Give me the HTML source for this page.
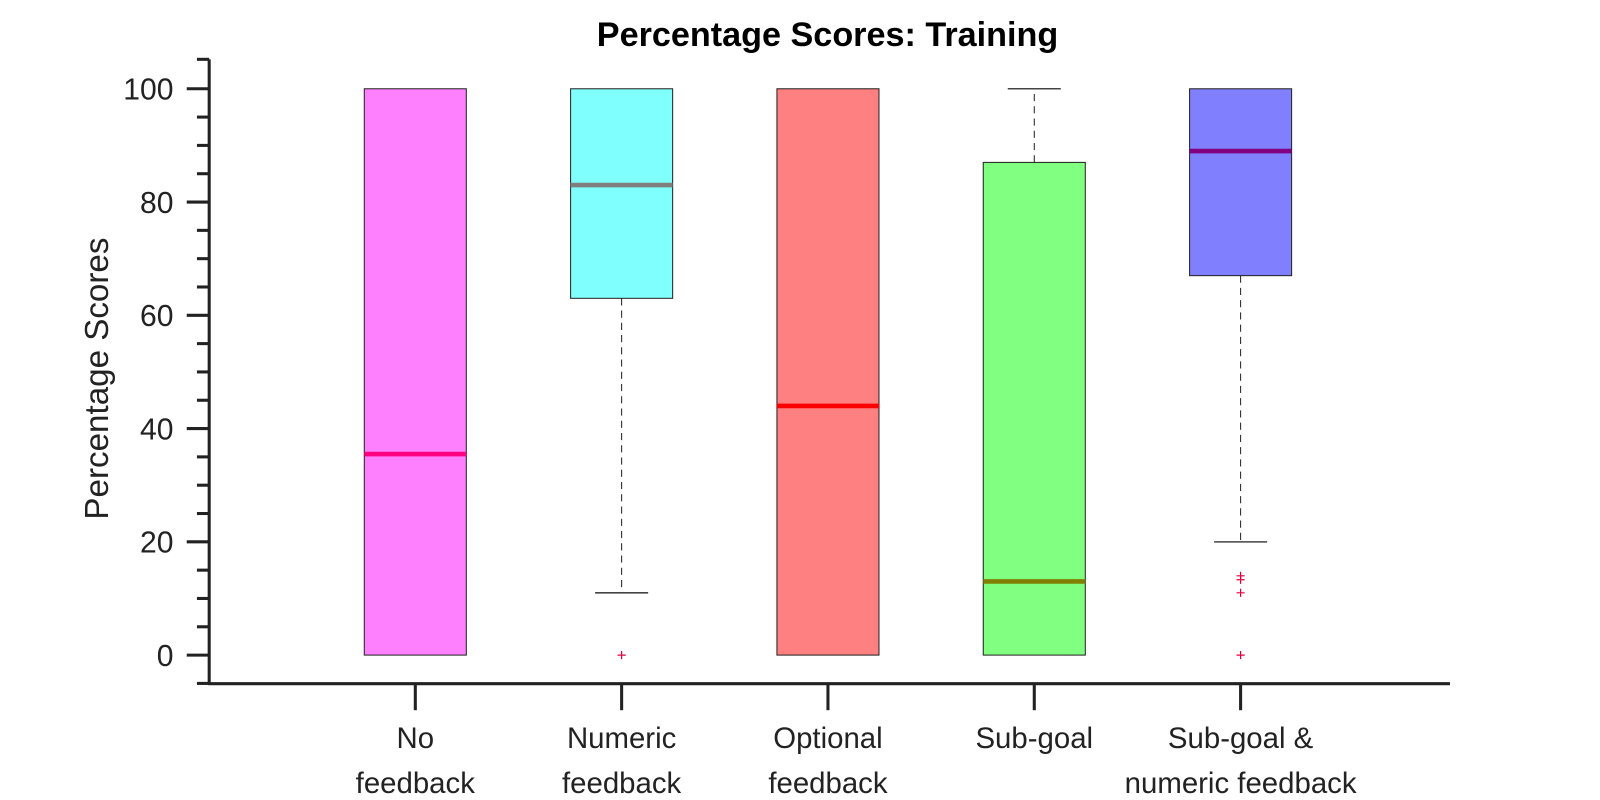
<!DOCTYPE html>
<html><head><meta charset="utf-8"><style>
body{margin:0;background:#fff;}
svg{display:block;font-family:"Liberation Sans",Arial,sans-serif;}
</style></head><body>
<svg id="chart" width="1600" height="800">
<g transform="scale(1.0204)">
<text x="811" y="45" text-anchor="middle" font-size="33.5" font-weight="bold" fill="#000">Percentage Scores: Training</text>
<text transform="translate(106,371) rotate(-90)" text-anchor="middle" font-size="32.5" fill="#222">Percentage Scores</text>
<g id="axes"></g>
<g id="boxes"></g>
</g>
</svg>
<script>
const categories=[["No","feedback"],["Numeric","feedback"],["Optional","feedback"],["Sub-goal",""],["Sub-goal &","numeric feedback"]];
const whiskerLow=[0,11,0,0,20];
const q1=[0,63,0,0,67];
const medians=[35.5,83,44,13,89];
const q3=[100,100,100,87,100];
const whiskerHigh=[100,100,100,100,100];
const outliers=[[],[0],[],[],[14,13.3,11,0]];
const yTicks=[0,20,40,60,80,100];
const fills=["#ff80ff","#80ffff","#ff8080","#80ff80","#8080ff"];
const medColors=["#ff0080","#808080","#ff0000","#808000","#800080"];

const ns="http://www.w3.org/2000/svg";
const y=v=>642-v*5.55;
const x=i=>407+i*202.2;
function mk(tag,attrs,parent){const e=document.createElementNS(ns,tag);for(const k in attrs)e.setAttribute(k,attrs[k]);parent.appendChild(e);return e;}
const axes=document.getElementById('axes'),boxes=document.getElementById('boxes');

let e=mk('line',{x1:205,y1:y(105.2),x2:205,y2:671,stroke:'#222','stroke-width':3},axes);


e=mk('line',{x1:204,y1:670,x2:1421,y2:670,stroke:'#222','stroke-width':3},axes);


mk('line',{x1:193,y1:y(105.2),x2:205,y2:y(105.2),stroke:'#222','stroke-width':3},axes);
for(let v=-5;v<=100;v+=5){
  const major=yTicks.includes(v);
  e=mk('line',{x1:major?183:193,y1:y(v),x2:205,y2:y(v),stroke:'#222','stroke-width':3},axes);
  
  
}
yTicks.forEach(v=>{
  const t=mk('text',{x:170,y:y(v)+10.5,'text-anchor':'end','font-size':29.5,fill:'#222'},axes);
  t.textContent=v;
  
  
});
categories.forEach((c,i)=>{
  e=mk('line',{x1:x(i),y1:670,x2:x(i),y2:696,stroke:'#222','stroke-width':3},axes);
  
  
  c.forEach((line,j)=>{
    if(!line)return;
    const t=mk('text',{x:x(i),y:733+j*44,'text-anchor':'middle','font-size':28.8,fill:'#222'},axes);
    t.textContent=line;
    
    
  });
});
categories.forEach((c,i)=>{
  const g=mk('g',{},boxes);
  
  
  const cx=x(i),hw=50,cw=26;
  if(whiskerHigh[i]>q3[i]){
    mk('line',{x1:cx,y1:y(q3[i]),x2:cx,y2:y(whiskerHigh[i]),stroke:'#222','stroke-width':1,'stroke-dasharray':'7,5'},g);
    mk('line',{x1:cx-cw,y1:y(whiskerHigh[i]),x2:cx+cw,y2:y(whiskerHigh[i]),stroke:'#444','stroke-width':1.5},g);
  }
  if(whiskerLow[i]<q1[i]){
    mk('line',{x1:cx,y1:y(q1[i]),x2:cx,y2:y(whiskerLow[i]),stroke:'#222','stroke-width':1,'stroke-dasharray':'7,5'},g);
    mk('line',{x1:cx-cw,y1:y(whiskerLow[i]),x2:cx+cw,y2:y(whiskerLow[i]),stroke:'#444','stroke-width':1.5},g);
  }
  mk('rect',{x:cx-hw,y:y(q3[i]),width:hw*2,height:y(q1[i])-y(q3[i]),fill:fills[i],stroke:'#222','stroke-width':1},g);
  mk('line',{x1:cx-hw,y1:y(medians[i]),x2:cx+hw,y2:y(medians[i]),stroke:medColors[i],'stroke-width':4.5},g);
  outliers[i].forEach(v=>{
    const o=mk('path',{d:`M${cx-4} ${y(v)}h8M${cx} ${y(v)-4}v8`,stroke:'#e0003c','stroke-width':1.2},g);
    
    
  });
});
</script>
</body></html>
